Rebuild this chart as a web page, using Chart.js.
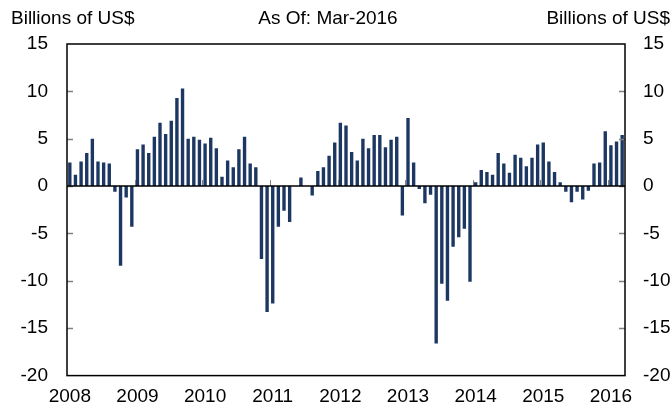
<!DOCTYPE html>
<html>
<head>
<meta charset="utf-8">
<script src="https://cdn.jsdelivr.net/npm/chart.js@4/dist/chart.umd.min.js"></script>
<style>
html,body{margin:0;padding:0;background:#fff;}
canvas{display:block;}
</style>
</head>
<body>
<canvas id="c" width="671" height="406"></canvas>
<script>
// Years covered (monthly data, Jan-2008 .. Mar-2016)
const years = [2008, 2009, 2010, 2011, 2012, 2013, 2014, 2015, 2016];
const lastYearMonths = 3;

// Monthly values, billions of US$
const v2008 = [2.5, 1.2, 2.6, 3.5, 5.0, 2.6, 2.5, 2.4, -0.6, -8.4, -1.2, -4.3];
const v2009 = [3.9, 4.4, 3.5, 5.2, 6.7, 5.5, 6.9, 9.3, 10.3, 5.0, 5.2, 4.9];
const v2010 = [4.5, 5.1, 4.0, 1.0, 2.7, 2.0, 3.9, 5.2, 2.4, 2.0, -7.7, -13.3];
const v2011 = [-12.4, -4.3, -2.6, -3.8, 0.0, 0.9, 0.0, -1.0, 1.6, 2.0, 3.2, 4.6];
const v2012 = [6.7, 6.4, 3.6, 2.7, 5.0, 4.0, 5.4, 5.4, 4.1, 4.9, 5.2, -3.1];
const v2013 = [7.2, 2.5, -0.3, -1.8, -0.9, -16.6, -10.3, -12.1, -6.4, -5.4, -4.5, -10.1];
const v2014 = [0.4, 1.7, 1.5, 1.2, 3.5, 2.4, 1.4, 3.3, 3.0, 2.1, 3.0, 4.4];
const v2015 = [4.6, 2.6, 1.5, 0.4, -0.6, -1.7, -0.6, -1.4, -0.5, 2.4, 2.5, 5.8];
const v2016 = [4.3, 4.7, 5.4];

// Y tick values
const yTicks = [15, 10, 5, 0, -5, -10, -15, -20];

const titleLeft = "Billions of US$";
const titleCenter = "As Of: Mar-2016";
const titleRight = "Billions of US$";

const values = [].concat(v2008, v2009, v2010, v2011, v2012, v2013, v2014, v2015, v2016);
const categories = [];
years.forEach((y, yi) => {
  const n = (yi === years.length - 1) ? lastYearMonths : 12;
  for (let m = 1; m <= n; m++) categories.push(y + '-' + String(m).padStart(2, '0'));
});

const FONT = '"Liberation Sans", Arial, sans-serif';
const BAR = '#1c3762';

const decor = {
  id: 'decor',
  afterDatasetsDraw(chart) {
    const ctx = chart.ctx;
    const a = chart.chartArea;
    const xs = chart.scales.x, ys = chart.scales.y;
    const y0 = ys.getPixelForValue(0);
    ctx.save();
    // y tick marks (inward, both sides)
    ctx.strokeStyle = '#808080';
    ctx.lineWidth = 1.5;
    yTicks.forEach(v => {
      if (v === yTicks[0] || v === yTicks[yTicks.length - 1]) return;
      const py = Math.round(ys.getPixelForValue(v)) + 0.5;
      ctx.beginPath();
      ctx.moveTo(a.left, py); ctx.lineTo(a.left + 6, py);
      ctx.moveTo(a.right - 6, py); ctx.lineTo(a.right, py);
      ctx.stroke();
    });
    // year ticks on zero line
    ctx.lineWidth = 1;
    categories.forEach((c, i) => {
      if (i === 0 || !c.endsWith('-01')) return;
      const px = Math.round((xs.getPixelForValue(i - 1) + xs.getPixelForValue(i)) / 2) + 0.5;
      ctx.beginPath();
      ctx.moveTo(px, y0); ctx.lineTo(px, y0 - 6);
      ctx.stroke();
    });
    // zero line
    ctx.strokeStyle = '#000';
    ctx.lineWidth = 1.5;
    ctx.beginPath();
    ctx.moveTo(a.left, y0); ctx.lineTo(a.right, y0);
    ctx.stroke();
    // frame
    ctx.strokeRect(a.left, a.top, a.right - a.left, a.bottom - a.top);
    // titles
    ctx.fillStyle = '#000';
    ctx.font = '19px ' + FONT;
    ctx.textBaseline = 'middle';
    ctx.textAlign = 'left';
    ctx.fillText(titleLeft, 11, 19);
    ctx.textAlign = 'center';
    ctx.fillText(titleCenter, 328, 19);
    ctx.textAlign = 'right';
    ctx.fillText(titleRight, 670, 19);
    ctx.restore();
  }
};

new Chart(document.getElementById('c'), {
  type: 'bar',
  data: {
    labels: categories,
    datasets: [{
      data: values,
      backgroundColor: BAR,
      borderWidth: 0,
      barPercentage: 0.6,
      categoryPercentage: 1.0,
      yAxisID: 'y'
    }]
  },
  options: {
    responsive: false,
    devicePixelRatio: 1,
    animation: false,
    layout: { padding: { top: 44, left: 0, right: 0, bottom: 0 } },
    plugins: { legend: { display: false }, tooltip: { enabled: false }, title: { display: false } },
    scales: {
      x: {
        type: 'category',
        grid: { display: false, drawTicks: false },
        border: { display: false },
        ticks: {
          autoSkip: false, maxRotation: 0, minRotation: 0,
          color: '#000', font: { family: FONT, size: 19 }, padding: 10,
          callback: function (val, i) {
            const c = categories[i];
            return c.endsWith('-01') ? c.slice(0, 4) : '';
          }
        },
        afterFit: s => { s.height = 28; }
      },
      y: {
        position: 'left', min: -20, max: 15,
        grid: { display: false, drawTicks: false },
        border: { display: false },
        ticks: {
          stepSize: 5, color: '#000', font: { family: FONT, size: 19 }, padding: 19
        },
        afterBuildTicks: s => { s.ticks = yTicks.map(v => ({ value: v })); },
        afterFit: s => { s.width = 67; }
      },
      y2: {
        position: 'right', min: -20, max: 15, display: true,
        grid: { display: false, drawTicks: false },
        border: { display: false },
        ticks: {
          stepSize: 5, color: '#000', font: { family: FONT, size: 19 }, padding: 18
        },
        afterBuildTicks: s => { s.ticks = yTicks.map(v => ({ value: v })); },
        afterFit: s => { s.width = 46; }
      }
    }
  },
  plugins: [decor]
});
</script>
</body>
</html>
